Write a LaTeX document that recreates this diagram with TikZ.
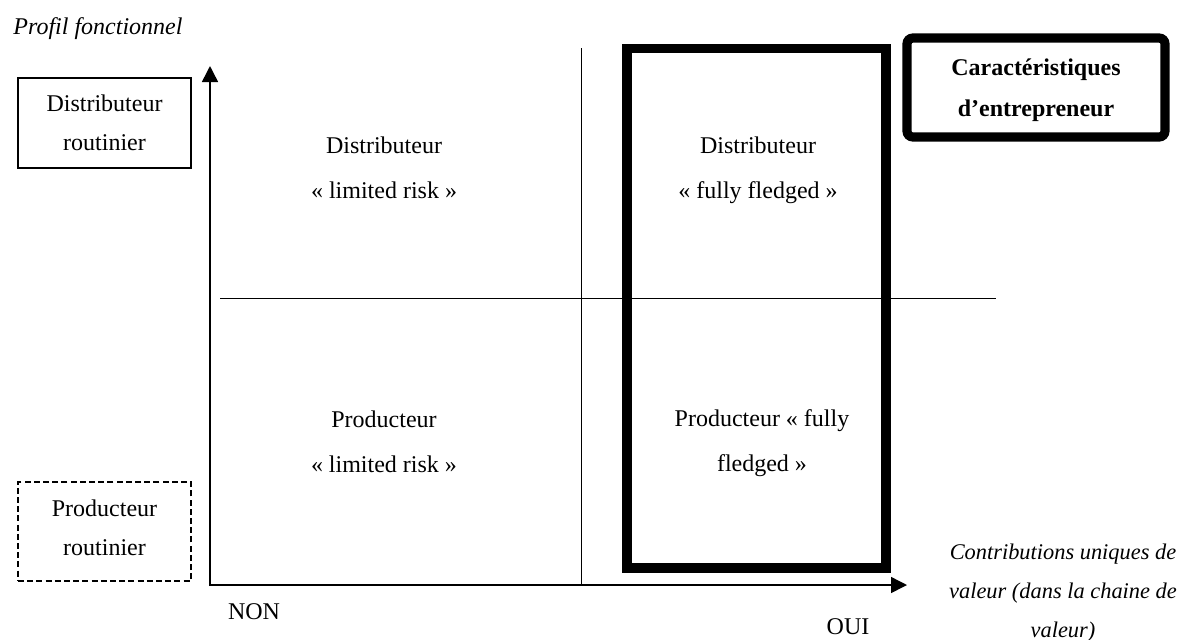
\documentclass[tikz,border=0pt]{standalone}
\usepackage{fontspec}
\setmainfont{Liberation Serif}
\usetikzlibrary{arrows.meta}
\begin{document}
\begin{tikzpicture}[x=0.5pt,y=-0.5pt,
  lbl/.style={align=center,font=\fontsize{12}{22.5}\selectfont,inner sep=0pt},
  sidebox/.style={draw,line width=0.65pt,minimum width=86.5pt,minimum height=45pt,inner sep=0pt},
  sidetext/.style={align=center,font=\fontsize{12}{19.5}\selectfont,inner sep=0pt},
  axis/.style={line width=0.75pt,-{Triangle[length=8pt,width=8pt]}},
  divider/.style={line width=0.5pt},
  heavy/.style={line width=4.6pt}]
\useasboundingbox (0,0) rectangle (1180,639);

% axis title
\node[anchor=west,inner sep=0pt,font=\fontsize{12}{14}\selectfont\itshape] (ytitle) at (13,29) {Profil fonctionnel};

% routine profiles outside the grid
\node[sidebox] (distrout) at (104.5,123) {};
\node[sidetext] (distrouttxt) at (104.5,123) {Distributeur\\routinier};
\node[sidebox,dashed,dash pattern=on 3pt off 1.6pt,minimum height=49.5pt] (prodrout) at (104.5,531.5) {};
\node[sidetext] (prodrouttxt) at (104.5,527.5) {Producteur\\routinier};

% axes
\coordinate (o) at (210,586);
\coordinate (ytip) at (210,66);
\coordinate (xo) at (210,585);
\coordinate (xtip) at (907,585);
\draw[axis] (o) -- (ytip);
\draw[axis] (xo) -- (xtip);

% quadrant dividers
\coordinate (vtop) at (581,48);
\coordinate (vbot) at (581,585);
\coordinate (hl) at (220,298);
\coordinate (hr) at (996,298);
\draw[divider] (vtop) -- (vbot);
\draw[divider] (hl) -- (hr);

% entrepreneur column
\coordinate (ent1) at (627,48.5);
\coordinate (ent2) at (886,568);
\draw[heavy] (ent1) rectangle (ent2);

\node[draw,heavy,rounded corners=3pt,minimum width=129pt,minimum height=49.5pt,inner sep=0pt] (entre) at (1036,87.5) {};
\node[align=center,font=\fontsize{12}{20.5}\selectfont\bfseries,inner sep=0pt] (entretxt) at (1036,90)
  {Caractéristiques\\d’entrepreneur};

% quadrant labels
\node[lbl] (q1) at (384,167.5) {Distributeur\\«~limited risk~»};
\node[lbl] (q2) at (758,170) {Distributeur\\«~fully fledged~»};
\node[lbl] (q3) at (384,441.5) {Producteur\\«~limited risk~»};
\node[lbl] (q4) at (762,443.5) {Producteur «~fully\\fledged~»};

% axis end labels
\node[inner sep=0pt,font=\fontsize{12}{14}\selectfont] (non) at (254,612) {NON};
\node[inner sep=0pt,font=\fontsize{12}{14}\selectfont] (oui) at (848,627) {OUI};
\node[align=center,inner sep=0pt,font=\fontsize{11.2}{19.5}\selectfont\itshape] (xtitle) at (1063,593.5)
  {Contributions uniques de\\valeur (dans la chaine de\\valeur)};
\end{tikzpicture}
\end{document}
